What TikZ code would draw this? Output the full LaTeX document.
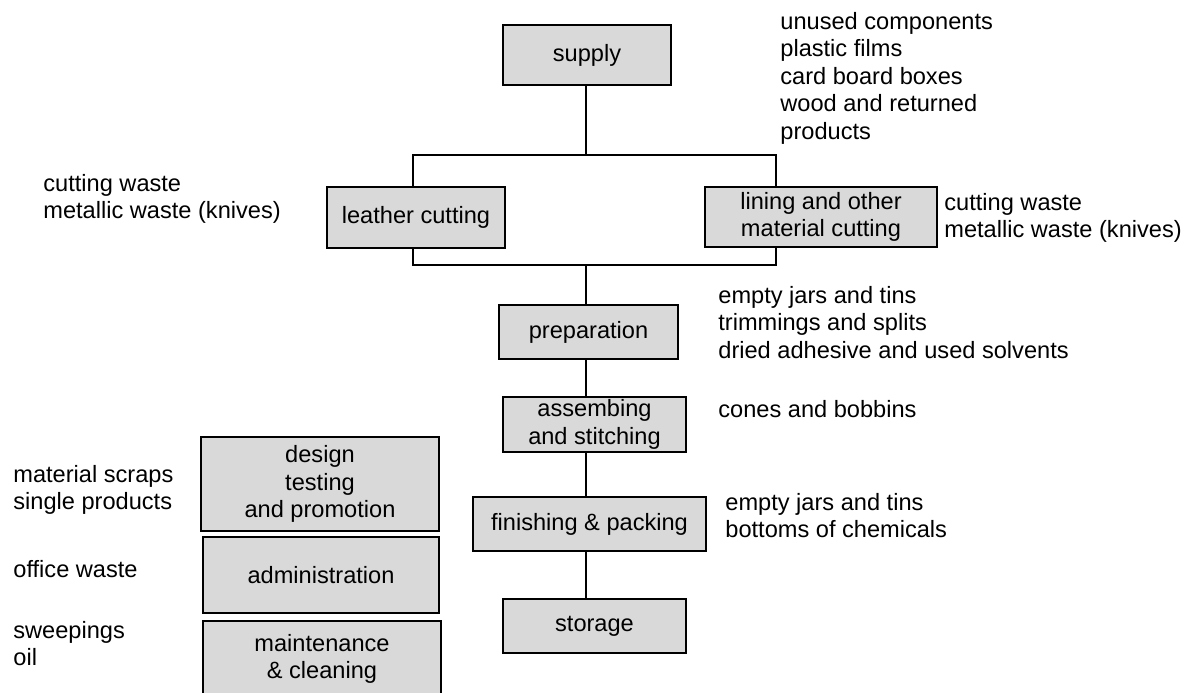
\documentclass[tikz,border=0pt]{standalone}
\usepackage{fontspec}
\setmainfont{Liberation Sans}
\definecolor{boxgray}{RGB}{217,217,217}
\newcommand{\dfont}{\fontsize{11.8}{13.75}\selectfont}
\newcommand{\lst}[1]{\begin{tabular}[t]{@{}l@{}}#1\end{tabular}}
\begin{document}
\begin{tikzpicture}[x=0.5pt,y=-0.5pt,
  procbox/.style={draw=black, fill=boxgray, line width=0.7pt, align=center, inner sep=0pt, font=\dfont},
  waste/.style={anchor=base west, inner sep=0pt, font=\dfont},
  link/.style={line width=0.7pt, draw=black}]
\useasboundingbox (0,0) rectangle (1190,692);

% process boxes
\node[procbox, minimum width=84pt, minimum height=30pt] (supply) at (587,55) {supply};
\node[procbox, minimum width=89pt, minimum height=30.5pt] (leather) at (416,217.5) {leather cutting};
\node[procbox, minimum width=116pt, minimum height=30pt] (lining) at (821,217) {lining and other\\material cutting};
\node[procbox, minimum width=89.5pt, minimum height=27pt] (prep) at (588.5,332) {preparation};
\node[procbox, minimum width=91.5pt, minimum height=27.5pt] (asm) at (594.5,424.5) {assembing\\and stitching};
\node[procbox, minimum width=116.5pt, minimum height=27pt] (fin) at (589.5,524) {finishing \& packing};
\node[procbox, minimum width=91.5pt, minimum height=27pt] (stor) at (594.5,626) {storage};
\node[procbox, minimum width=119pt, minimum height=47pt] (design) at (320,484) {design\\testing\\and promotion};
\node[procbox, minimum width=118pt, minimum height=38pt] (admin) at (321,575) {administration};
\node[procbox, minimum width=119pt, minimum height=38pt] (maint) at (322,659) {maintenance\\\& cleaning};

% junction points
\coordinate (jt) at (586,155);
\coordinate (jb) at (586,265);
\coordinate (tl) at (413,155);
\coordinate (tr) at (776,155);
\coordinate (bl) at (413,265);
\coordinate (br) at (776,265);

% connectors
\draw[link] (supply.south -| jt) -- (jt);
\draw[link] (leather.north -| tl) -- (tl) -- (tr) -- (lining.north -| tr);
\draw[link] (leather.south -| bl) -- (bl) -- (br) -- (lining.south -| br);
\draw[link] (jb) -- (prep.north -| jb);
\draw[link] (prep.south -| jb) -- (asm.north -| jb);
\draw[link] (asm.south -| jb) -- (fin.north -| jb);
\draw[link] (fin.south -| jb) -- (stor.north -| jb);

% waste lists
\node[waste] (wsupply) at (780,29) {\lst{unused components\\plastic films\\card board boxes\\wood and returned\\products}};
\node[waste] (wleather) at (43,191) {\lst{cutting waste\\metallic waste (knives)}};
\node[waste] (wlining) at (944,210) {\lst{cutting waste\\metallic waste (knives)}};
\node[waste] (wprep) at (718,303) {\lst{empty jars and tins\\trimmings and splits\\dried adhesive and used solvents}};
\node[waste] (wasm) at (718,417) {\lst{cones and bobbins}};
\node[waste] (wfin) at (725,510) {\lst{empty jars and tins\\bottoms of chemicals}};
\node[waste] (wdesign) at (13,482) {\lst{material scraps\\single products}};
\node[waste] (wadmin) at (13,577) {\lst{office waste}};
\node[waste] (wmaint) at (13,638) {\lst{sweepings\\oil}};
\end{tikzpicture}
\end{document}
